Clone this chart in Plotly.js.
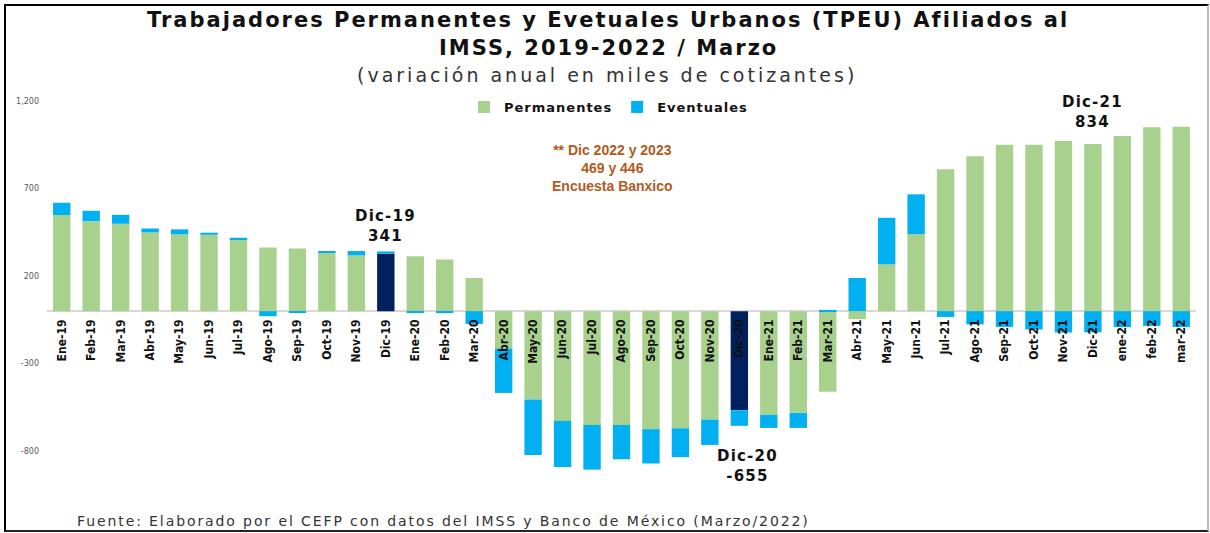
<!DOCTYPE html>
<html>
<head>
<meta charset="utf-8">
<script src="https://cdn.plot.ly/plotly-3.0.1.min.js"></script>
<style>
  html, body { margin: 0; padding: 0; background: #ffffff; }
  #wrap { position: relative; width: 1210px; height: 533px; }
  #chart { position: absolute; left: 0; top: 0; width: 1210px; height: 533px; }
  #frame { position: absolute; left: 4px; top: 4px; width: 1201px; height: 524px;
           border-top: 2px solid #000; border-left: 2px solid #000; border-bottom: 2px solid #222;
           border-right: 2px solid #bbb; pointer-events: none; }
</style>
</head>
<body>
<div id="wrap"><div id="chart"></div><div id="frame"></div></div>
<script>
const categories = ['Ene-19','Feb-19','Mar-19','Abr-19','May-19','Jun-19','Jul-19','Ago-19','Sep-19','Oct-19','Nov-19','Dic-19',
  'Ene-20','Feb-20','Mar-20','Abr-20','May-20','Jun-20','Jul-20','Ago-20','Sep-20','Oct-20','Nov-20','Dic-20',
  'Ene-21','Feb-21','Mar-21','Abr-21','May-21','Jun-21','Jul-21','Ago-21','Sep-21','Oct-21','Nov-21','Dic-21',
  'ene-22','feb-22','mar-22'];

const permanentes = [549, 514, 499, 450, 438, 436, 411, 364, 358, 337, 318, 327,
  314, 295, 189, -213, -505, -627, -650, -650, -674, -669, -619, -566,
  -592, -581, -461, -46, 267, 440, 810, 884, 950, 950, 971, 955,
  1000, 1050, 1053];

const eventuales = [70, 59, 51, 22, 29, 12, 8, -29, -8, 6, 25, 14,
  -5, -5, -73, -254, -316, -263, -255, -196, -196, -165, -145, -89,
  -75, -86, 7, 189, 266, 227, -33, -76, -90, -105, -122, -121,
  -91, -84, -91];

const highlighted = ['Dic-19', 'Dic-20'];

const yTickVals = [-800, -300, 200, 700, 1200];
const yTickText = ['-800', '-300', '200', '700', '1,200'];

const callouts = [
  {cat: 'Dic-19', label: 'Dic-19', value: '341'},
  {cat: 'Dic-20', label: 'Dic-20', value: '-655'},
  {cat: 'Dic-21', label: 'Dic-21', value: '834'}
];

const noteLines = ['** Dic 2022 y 2023', '469 y 446', 'Encuesta Banxico'];

const titleLine1 = 'Trabajadores Permanentes y Evetuales Urbanos (TPEU) Afiliados al';
const titleLine2 = 'IMSS, 2019-2022 / Marzo';
const subtitle = '(variación anual en miles de cotizantes)';
const source = 'Fuente: Elaborado por el CEFP con datos del IMSS y Banco de México (Marzo/2022)';

const GREEN = '#A9D18E', BLUE = '#00B0F0', NAVY = '#002060';
const yMin = -1050, yMax = 1200;
const zeroPos = (0 - yMin) / (yMax - yMin);

// plot area geometry (pixels) for placing texts outside the plot
const M = {l: 47, r: 14, t: 101, b: 38};
const W = 1210, H = 533;
const plotW = W - M.l - M.r, plotH = H - M.t - M.b;
const px2x = px => (px - M.l) / plotW;
const py2y = py => (H - M.b - py) / plotH;
const spaced = (t, s) => '<span style="letter-spacing:' + s + 'px">' + t + '</span>';

const traces = [
  {
    type: 'bar', name: spaced('Permanentes', 1), x: categories, y: permanentes,
    marker: {color: categories.map(c => highlighted.includes(c) ? NAVY : GREEN)},
    hoverinfo: 'x+y'
  },
  {
    type: 'bar', name: spaced('Eventuales', 1), x: categories, y: eventuales,
    marker: {color: BLUE},
    hoverinfo: 'x+y'
  }
];

const calloutY = {'Dic-19': 486, 'Dic-20': -883, 'Dic-21': 1137};
const calloutShift = {'Dic-19': 0, 'Dic-20': 8, 'Dic-21': 0};

const annotations = callouts.map(c => ({
  x: c.cat, y: calloutY[c.cat], xref: 'x', yref: 'y',
  xshift: calloutShift[c.cat],
  text: spaced(c.label, 1.2) + '<br>' + spaced(c.value, 1.2), showarrow: false,
  xanchor: 'center', yanchor: 'middle', align: 'center',
  font: {family: 'DejaVu Sans', size: 15, color: '#111', weight: 'bold'}
}));

annotations.push({
  x: px2x(612), y: 820, xref: 'paper', yref: 'y',
  text: noteLines.join('<br>'), showarrow: false,
  xanchor: 'center', yanchor: 'middle', align: 'center',
  font: {family: 'Liberation Sans', size: 14, color: '#B35A1F', weight: 'bold'}
});

// title lines
annotations.push({
  x: px2x(608), y: py2y(20), xref: 'paper', yref: 'paper',
  text: spaced(titleLine1, 2), showarrow: false, xanchor: 'center', yanchor: 'middle',
  font: {family: 'DejaVu Sans', size: 21, color: '#111', weight: 'bold'}
});
annotations.push({
  x: px2x(608), y: py2y(48), xref: 'paper', yref: 'paper',
  text: spaced(titleLine2, 2), showarrow: false, xanchor: 'center', yanchor: 'middle',
  font: {family: 'DejaVu Sans', size: 21, color: '#111', weight: 'bold'}
});
annotations.push({
  x: px2x(607), y: py2y(75), xref: 'paper', yref: 'paper',
  text: spaced(subtitle, 3), showarrow: false, xanchor: 'center', yanchor: 'middle',
  font: {family: 'DejaVu Sans', size: 19, color: '#333'}
});

// source
annotations.push({
  x: px2x(75), y: py2y(521), xref: 'paper', yref: 'paper',
  text: spaced(source, 1.9), showarrow: false, xanchor: 'left', yanchor: 'middle',
  font: {family: 'DejaVu Sans', size: 14, color: '#333'}
});

const layout = {
  width: W, height: H,
  margin: M,
  paper_bgcolor: '#ffffff', plot_bgcolor: '#ffffff',
  barmode: 'relative', bargap: 0.41,
  showlegend: true,
  legend: {
    orientation: 'h', x: px2x(464), xanchor: 'left', y: py2y(107), yanchor: 'middle',
    font: {family: 'DejaVu Sans', size: 13, color: '#111', weight: 'bold'},
    bgcolor: 'rgba(0,0,0,0)', itemwidth: 30, traceorder: 'normal'
  },
  xaxis: {
    type: 'category', anchor: 'free', position: zeroPos,
    tickangle: -90, showgrid: false, showline: false, zeroline: false,
    ticks: '', ticklabelstandoff: 5,
    tickfont: {family: 'DejaVu Sans Condensed, DejaVu Sans', size: 12, color: '#111', weight: 'bold'}
  },
  yaxis: {
    range: [yMin, yMax], showgrid: false, zeroline: true, zerolinecolor: '#D9D9D9', zerolinewidth: 1.5,
    tickvals: yTickVals, ticktext: yTickText, showline: false, ticks: '',
    ticklabelstandoff: 7,
    tickfont: {family: 'DejaVu Sans', size: 8, color: '#595959'}
  },
  annotations: annotations
};

Plotly.newPlot('chart', traces, layout, {displayModeBar: false});
</script>
</body>
</html>
